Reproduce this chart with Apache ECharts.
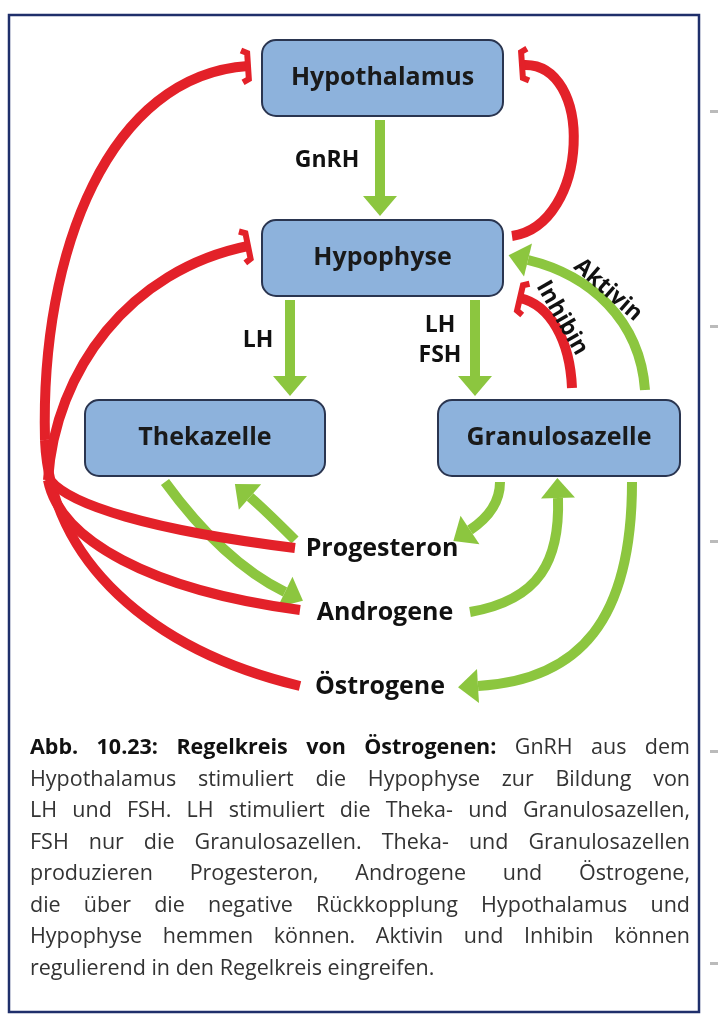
<!DOCTYPE html>
<html><head><meta charset="utf-8">
<script src="https://cdn.jsdelivr.net/npm/echarts@6/dist/echarts.min.js"></script>
<style>html,body{margin:0;padding:0;background:#fff}#c{width:722px;height:1024px}</style>
</head><body><div id="c"></div>
<script>
// boxes: name, x, y, w, h
const boxNames = ['Hypothalamus', 'Hypophyse', 'Thekazelle', 'Granulosazelle'];
const boxRects = [[262, 40, 241, 76], [262, 220, 241, 76], [85, 400, 240, 76], [438, 400, 242, 76]];
// hormone labels: text, x, y
const hormoneNames = ['Progesteron', 'Androgene', 'Östrogene'];
const hormonePos = [[382, 549], [385, 613], [380, 687]];
const captionBold = 'Abb. 10.23: Regelkreis von Östrogenen:';
const captionLines = [
  'GnRH aus dem',
  'Hypothalamus stimuliert die Hypophyse zur Bildung von',
  'LH und FSH. LH stimuliert die Theka- und Granulosazellen,',
  'FSH nur die Granulosazellen. Theka- und Granulosazellen',
  'produzieren Progesteron, Androgene und Östrogene,',
  'die über die negative Rückkopplung Hypothalamus und',
  'Hypophyse hemmen können. Aktivin und Inhibin können',
  'regulierend in den Regelkreis eingreifen.'
];
// curves: [x1,y1, cx1,cy1, cx2,cy2, x2,y2]
const greenCurves = [
  [380, 120, 380, 150, 380, 180, 380, 196],
  [290, 300, 290, 330, 290, 360, 290, 376],
  [475, 300, 475, 330, 475, 360, 475, 376],
  [165, 482, 200, 530, 240, 570, 285, 592],
  [295, 540, 280, 525, 265, 510, 250, 497],
  [500, 482, 500, 505, 485, 520, 470, 530],
  [470, 612, 540, 600, 560, 560, 558, 498],
  [632, 482, 632, 620, 580, 680, 478, 686],
  [645, 390, 640, 320, 590, 275, 528, 260]
];
// last flag: draw inhibition bar at end
const redCurves = [
  [512, 236, 590, 225, 595, 60, 522, 65, 1],
  [572, 388, 570, 340, 550, 305, 520, 298, 1],
  [300, 686, 150, 650, 50, 560, 45, 440, 0],
  [45, 440, 40, 250, 110, 75, 248, 66, 1],
  [300, 610, 150, 590, 60, 540, 48, 480, 0],
  [295, 548, 150, 530, 70, 505, 50, 480, 0],
  [48, 480, 55, 370, 130, 270, 248, 246, 1]
];
const GREEN = '#8cc63f', RED = '#e32129';
const FONT = '21.5px "Open Sans"', BFONT = 'bold 21.5px "Open Sans"';

const els = [];
els.push({ type: 'rect', shape: { x: 9, y: 15, width: 690, height: 997 }, style: { fill: 'none', stroke: '#1f2f6b', lineWidth: 2.5 } });
[110, 325, 540, 750, 962].forEach(y => els.push({ type: 'rect', shape: { x: 710, y: y, width: 8, height: 3 }, style: { fill: '#bbb' } }));

function bez(c, color) {
  els.push({ type: 'bezierCurve', shape: { x1: c[0], y1: c[1], cpx1: c[2], cpy1: c[3], cpx2: c[4], cpy2: c[5], x2: c[6], y2: c[7] },
    style: { stroke: color, lineWidth: 10, fill: 'none' } });
}
greenCurves.forEach(c => {
  bez(c, GREEN);
  let dx = c[6] - c[4], dy = c[7] - c[5], L = Math.hypot(dx, dy); dx /= L; dy /= L;
  const px = -dy, py = dx, ex = c[6], ey = c[7];
  els.push({ type: 'polygon', shape: { points: [[ex + dx * 20, ey + dy * 20], [ex + px * 17, ey + py * 17], [ex - px * 17, ey - py * 17]] }, style: { fill: GREEN } });
});
redCurves.forEach(c => {
  bez(c, RED);
  if (!c[8]) return;
  let dx = c[6] - c[4], dy = c[7] - c[5], L = Math.hypot(dx, dy); dx /= L; dy /= L;
  const px = -dy, py = dx, ex = c[6], ey = c[7];
  els.push({ type: 'polyline', shape: { points: [[ex + px * 16 - dx * 6, ey + py * 16 - dy * 6], [ex + px * 13, ey + py * 13], [ex - px * 13, ey - py * 13], [ex - px * 16 - dx * 6, ey - py * 16 - dy * 6]] },
    style: { stroke: RED, lineWidth: 6, fill: 'none' } });
});

boxNames.forEach((n, i) => {
  const r = boxRects[i];
  els.push({ type: 'rect', shape: { x: r[0], y: r[1], width: r[2], height: r[3], r: 14 }, style: { fill: '#8db2dc', stroke: '#2a3550', lineWidth: 2 } });
  els.push({ type: 'text', x: r[0] + r[2] / 2, y: r[1] + r[3] / 2, style: { text: n, font: 'bold 25px "Open Sans"', fill: '#1a1a1a', align: 'center', verticalAlign: 'middle' } });
});
hormoneNames.forEach((n, i) => els.push({ type: 'text', x: hormonePos[i][0], y: hormonePos[i][1], style: { text: n, font: 'bold 25px "Open Sans"', fill: '#111', align: 'center', verticalAlign: 'middle' } }));
const lab = (t, x, y, rot) => els.push({ type: 'text', x: x, y: y, rotation: rot || 0, style: { text: t, font: 'bold 23px "Open Sans"', fill: '#111', align: 'center', verticalAlign: 'middle', lineHeight: 30 } });
lab('GnRH', 327, 160);
lab('LH', 258, 340);
lab('LH\nFSH', 440, 340);
lab('Aktivin', 608, 290, -0.72);
lab('Inhibin', 562, 318, -1.05);

// justified caption
const ctx = document.createElement('canvas').getContext('2d');
const measure = (t, f) => { ctx.font = f; return ctx.measureText(t).width; };
const LEFT = 30, RIGHT = 690;
captionLines.forEach((t, i) => {
  const y = 748 + i * 31.5;
  const words = t.split(' ').map(w => ({ w: w, f: FONT, c: '#333' }));
  if (i === 0) captionBold.split(' ').reverse().forEach(w => words.unshift({ w: w, f: BFONT, c: '#111' }));
  const last = i === captionLines.length - 1;
  const total = words.reduce((s, o) => s + measure(o.w, o.f), 0);
  const gap = last ? measure(' ', FONT) : (RIGHT - LEFT - total) / (words.length - 1);
  let x = LEFT;
  words.forEach(o => {
    els.push({ type: 'text', x: x, y: y, style: { text: o.w, font: o.f, fill: o.c, verticalAlign: 'middle' } });
    x += measure(o.w, o.f) + gap;
  });
});

const chart = echarts.init(document.getElementById('c'));
chart.setOption({ graphic: { elements: els } });
</script></body></html>
